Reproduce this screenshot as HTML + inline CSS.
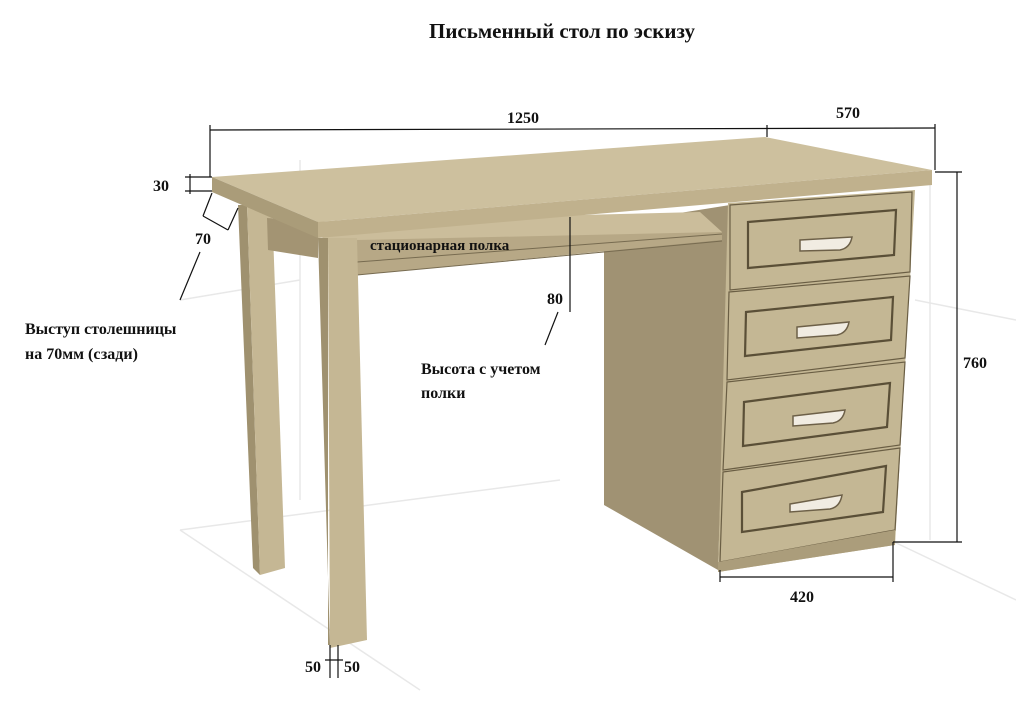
<!DOCTYPE html>
<html><head><meta charset="utf-8"><style>
html,body{margin:0;padding:0;background:#fff;}
svg{display:block}
text{font-family:"Liberation Serif",serif;font-weight:bold;fill:#111}
</style></head><body>
<svg width="1016" height="710" viewBox="0 0 1016 710" xmlns="http://www.w3.org/2000/svg">
<rect width="1016" height="710" fill="#fff"/>
<g stroke="#e8e8e8" stroke-width="1.5" fill="none">
<line x1="180" y1="530" x2="560" y2="480"/>
<line x1="180" y1="530" x2="420" y2="690"/>
<line x1="890" y1="540" x2="1016" y2="600"/>
<line x1="915" y1="300" x2="1016" y2="320"/>
<line x1="180" y1="300" x2="300" y2="280"/>
<line x1="300" y1="160" x2="300" y2="500"/>
<line x1="930" y1="185" x2="930" y2="540"/>
</g>
<!-- back leg -->
<polygon points="238,205 247,205 260,575 253,568" fill="#9f916f"/>
<polygon points="247,205 272,205 285,568 260,575" fill="#c5b794"/>
<!-- left apron -->
<polygon points="267,218 318,222 318,258 268,250" fill="#a39473"/>
<!-- pedestal side -->
<polygon points="604,225 730,205 718,570 604,505" fill="#a09273"/>
<!-- shelf -->
<polygon points="300,222 700,212 722,232 357,262" fill="#cbbd9b"/>
<polygon points="357,240 722,232 722,240 357,275" fill="#b7a886"/>
<line x1="357" y1="262" x2="722" y2="234" stroke="#776b50" stroke-width="1"/>
<line x1="357" y1="275" x2="722" y2="241" stroke="#776b50" stroke-width="1"/>
<!-- pedestal front -->
<polygon points="728,203 915,190 895,545 718,572" fill="#c4b794"/>
<g fill="#c4b794" stroke="#6a5e44" stroke-width="1.2">
<polygon points="730,205 912,192 910,272 730,290"/>
<polygon points="729,292 910,276 905,358 727,380"/>
<polygon points="727,382 905,362 900,445 723,470"/>
<polygon points="723,472 900,448 895,530 720,562"/>
</g>
<g fill="none" stroke="#5a4f37" stroke-width="2.2">
<polygon points="748,222 896,210 894,255 748,268"/>
<polygon points="746,312 893,297 891,340 745,356"/>
<polygon points="744,402 890,383 887,427 743,446"/>
<polygon points="742,492 886,466 883,512 742,532"/>
</g>
<g fill="#f1ece2" stroke="#6d6048" stroke-width="1.5">
<path d="M800,240 L852,237 Q850,248 840,250 L800,251Z"/>
<path d="M797,327 L849,322 Q847,333 837,335 L797,338Z"/>
<path d="M793,416 L845,410 Q843,421 833,423 L793,426Z"/>
<path d="M790,504 L842,495 Q840,507 830,509 L790,512Z"/>
</g>
<polygon points="718,562 895,530 895,545 718,572" fill="#ab9d7b"/>
<!-- front leg -->
<polygon points="318,238 328,238 328,645 330,645" fill="#9f916f"/>
<polygon points="328,238 357,238 367,640 330,648" fill="#c5b794"/>
<!-- tabletop -->
<polygon points="212,177 765,137 932,170 318,222" fill="#cdc09e"/>
<polygon points="212,177 318,222 318,238 212,192" fill="#aa9c79"/>
<polygon points="318,222 932,170 932,185 318,238" fill="#c0b18d"/>
<!-- dimension lines -->
<g stroke="#111" stroke-width="1.2" fill="none">
<line x1="210" y1="130" x2="935" y2="128"/>
<line x1="210" y1="125" x2="210" y2="177"/>
<line x1="767" y1="125" x2="767" y2="137"/>
<line x1="935" y1="124" x2="935" y2="170"/>
<line x1="935" y1="172" x2="962" y2="172"/>
<line x1="957" y1="172" x2="957" y2="542"/>
<line x1="893" y1="542" x2="962" y2="542"/>
<line x1="720" y1="577" x2="893" y2="577"/>
<line x1="893" y1="542" x2="893" y2="582"/>
<line x1="720" y1="570" x2="720" y2="582"/>
<line x1="185" y1="177" x2="212" y2="177"/>
<line x1="185" y1="191" x2="212" y2="191"/>
<line x1="190" y1="174" x2="190" y2="194"/>
<line x1="203" y1="216" x2="228" y2="230"/>
<line x1="203" y1="216" x2="212" y2="193"/>
<line x1="228" y1="230" x2="238" y2="208"/>
<line x1="570" y1="217" x2="570" y2="312"/>
<line x1="330" y1="645" x2="330" y2="678"/>
<line x1="338" y1="645" x2="338" y2="678"/>
<line x1="325" y1="660" x2="343" y2="660"/>
<line x1="180" y1="300" x2="200" y2="252"/>
<line x1="545" y1="345" x2="558" y2="312"/>
</g>
<text x="562" y="38" font-size="21" text-anchor="middle">Письменный стол по эскизу</text>
<text x="523" y="123" font-size="16" text-anchor="middle">1250</text>
<text x="848" y="118" font-size="16" text-anchor="middle">570</text>
<text x="975" y="368" font-size="16" text-anchor="middle">760</text>
<text x="802" y="602" font-size="16" text-anchor="middle">420</text>
<text x="161" y="191" font-size="16" text-anchor="middle">30</text>
<text x="203" y="244" font-size="16" text-anchor="middle">70</text>
<text x="555" y="304" font-size="16" text-anchor="middle">80</text>
<text x="313" y="672" font-size="16" text-anchor="middle">50</text>
<text x="352" y="672" font-size="16" text-anchor="middle">50</text>
<text x="370" y="250" font-size="15">стационарная полка</text>
<text x="25" y="334" font-size="16">Выступ столешницы</text>
<text x="25" y="359" font-size="16">на 70мм  (сзади)</text>
<text x="421" y="374" font-size="16">Высота с учетом</text>
<text x="421" y="398" font-size="16">полки</text>
</svg>
</body></html>
